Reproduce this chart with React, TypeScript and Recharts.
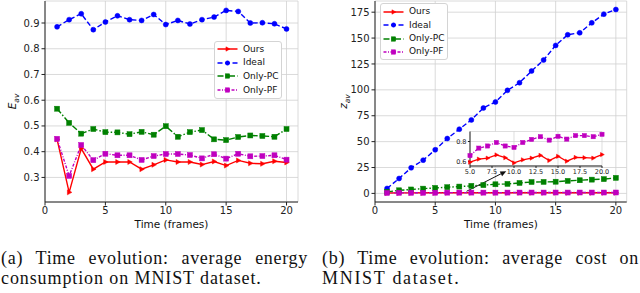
import React from 'react';
import { LineChart, Line, XAxis, YAxis, CartesianGrid, Legend, ReferenceLine } from 'recharts';

// frames on the x axis
const frames = [1, 2, 3, 4, 5, 6, 7, 8, 9, 10, 11, 12, 13, 14, 15, 16, 17, 18, 19, 20];

// (a) average energy consumption
const energyOurs = [0.448, 0.242, 0.412, 0.332, 0.36, 0.36, 0.36, 0.332, 0.349, 0.368, 0.36, 0.36, 0.35, 0.362, 0.346, 0.366, 0.355, 0.353, 0.363, 0.358];
const energyIdeal = [0.885, 0.913, 0.936, 0.874, 0.904, 0.928, 0.913, 0.91, 0.933, 0.894, 0.91, 0.896, 0.913, 0.923, 0.949, 0.945, 0.9, 0.901, 0.897, 0.877];
const energyOnlyPC = [0.567, 0.512, 0.47, 0.488, 0.476, 0.475, 0.468, 0.477, 0.466, 0.499, 0.458, 0.476, 0.484, 0.448, 0.445, 0.457, 0.463, 0.461, 0.458, 0.488];
const energyOnlyPF = [0.45, 0.306, 0.426, 0.367, 0.392, 0.386, 0.386, 0.368, 0.383, 0.391, 0.391, 0.387, 0.374, 0.39, 0.373, 0.392, 0.382, 0.383, 0.386, 0.369];

// (b) average cost
const costOurs = [0.42, 0.5, 0.55, 0.57, 0.593, 0.624, 0.634, 0.666, 0.638, 0.586, 0.617, 0.634, 0.662, 0.61, 0.652, 0.603, 0.641, 0.638, 0.634, 0.669];
const costIdeal = [4.8, 14.4, 24.7, 32.1, 42.1, 53.0, 62.0, 71.0, 82.5, 88.3, 99.5, 106.9, 118.2, 128.8, 142.9, 153.2, 155.1, 164.7, 173.1, 177.6];
const costOnlyPC = [1.5, 3.0, 3.8, 4.6, 5.3, 6.0, 6.6, 7.3, 8.0, 8.8, 9.2, 10.1, 11.0, 11.1, 11.3, 12.1, 12.7, 13.3, 13.8, 15.0];
const costOnlyPF = [0.45, 0.55, 0.6, 0.63, 0.659, 0.734, 0.755, 0.79, 0.755, 0.741, 0.79, 0.821, 0.848, 0.814, 0.852, 0.824, 0.859, 0.859, 0.848, 0.872];

// ticks
const frameTicks = [0, 5, 10, 15, 20];
const energyTicks = [0.3, 0.4, 0.5, 0.6, 0.7, 0.8, 0.9];
const costTicks = [0, 25, 50, 75, 100, 125, 150, 175];
const insetFrameTicks = [5, 7.5, 10, 12.5, 15, 17.5, 20];
const insetCostTicks = [0.6, 0.8];

// zoom arrow: from the low curves up to the inset (data units)
const arrowFrom = { x: 7.6, y: 2.0 };
const arrowTo = { x: 10.9, y: 21.5 };

const SERIES = [
  { key: 'ours', name: 'Ours', color: '#ff0000', dash: undefined, marker: 'tri' },
  { key: 'ideal', name: 'Ideal', color: '#0000ff', dash: '5 2.5', marker: 'circle' },
  { key: 'pc', name: 'Only-PC', color: '#008000', dash: '6 2 1.5 2', marker: 'square' },
  { key: 'pf', name: 'Only-PF', color: '#bf00bf', dash: '3 1.5 1 1.5', marker: 'square' },
];

const energyRows = frames.map((t, i) => ({
  t,
  ours: energyOurs[i],
  ideal: energyIdeal[i],
  pc: energyOnlyPC[i],
  pf: energyOnlyPF[i],
}));

const costRows = frames.map((t, i) => ({
  t,
  ours: costOurs[i],
  ideal: costIdeal[i],
  pc: costOnlyPC[i],
  pf: costOnlyPF[i],
}));

const insetRows = costRows.filter((r) => r.t >= 5);

const FONT = '"DejaVu Sans", sans-serif';
const tickStyle = { fontSize: 10, fill: '#222', fontFamily: FONT };

function Marker({ kind, cx, cy, color, s = 2.6 }: any) {
  if (cx == null || cy == null) return null;
  if (kind === 'tri') {
    const pts = `${cx + s * 1.1},${cy} ${cx - s * 0.7},${cy - s} ${cx - s * 0.7},${cy + s}`;
    return <polygon points={pts} fill={color} stroke={color} strokeWidth={0.5} />;
  }
  if (kind === 'circle') {
    return <circle cx={cx} cy={cy} r={s} fill={color} stroke={color} strokeWidth={0.5} />;
  }
  return <rect x={cx - s} y={cy - s} width={s * 2} height={s * 2} fill={color} stroke={color} strokeWidth={0.5} />;
}

const LegendBox = ({ rowH }: { rowH: number }) => (
  <div
    style={{
      background: '#fff',
      border: '1px solid #d4d4d4',
      borderRadius: 3,
      padding: '1px 3px 1px 2px',
      fontFamily: FONT,
      fontSize: 9,
      color: '#111',
      whiteSpace: 'nowrap',
      display: 'inline-block',
    }}
  >
    {SERIES.map((s) => (
      <div key={s.key} style={{ display: 'flex', alignItems: 'center', height: rowH }}>
        <svg width={21} height={10} style={{ display: 'block', flex: 'none' }}>
          <line x1={0.5} y1={5} x2={20.5} y2={5} stroke={s.color} strokeWidth={1.5} strokeDasharray={s.dash} />
          <Marker kind={s.marker} cx={10.5} cy={5} color={s.color} s={2.2} />
        </svg>
        <span style={{ marginLeft: 5, lineHeight: 1 }}>{s.name}</span>
      </div>
    ))}
  </div>
);

const XTitle = ({ viewBox }: any) => (
  <text
    x={viewBox.x + viewBox.width / 2}
    y={viewBox.y + 26}
    textAnchor="middle"
    fontSize={10.5}
    fontFamily={FONT}
    fill="#111"
  >
    Time (frames)
  </text>
);

const YTitle = ({ viewBox, sym, at }: any) => {
  const cx = viewBox.x + at;
  const cy = viewBox.y + viewBox.height / 2;
  return (
    <text
      x={cx}
      y={cy}
      transform={`rotate(-90, ${cx}, ${cy})`}
      textAnchor="middle"
      fontSize={10.5}
      fontFamily={FONT}
      fill="#111"
    >
      <tspan fontStyle="italic">{sym}</tspan>
      <tspan fontStyle="italic" fontSize={7.5} dy={2.5}>av</tspan>
    </text>
  );
};

const Arrow = (props: any) => {
  const { x1, y1, x2, y2 } = props;
  if ([x1, y1, x2, y2].some((v) => v == null)) return null;
  const a = Math.atan2(y2 - y1, x2 - x1);
  const L = 6;
  const W = 2.6;
  const bx = x2 - L * Math.cos(a);
  const by = y2 - L * Math.sin(a);
  const pts = `${x2},${y2} ${bx + W * Math.sin(a)},${by - W * Math.cos(a)} ${bx - W * Math.sin(a)},${by + W * Math.cos(a)}`;
  return (
    <g>
      <line x1={x1} y1={y1} x2={bx} y2={by} stroke="#111" strokeWidth={1} />
      <polygon points={pts} fill="#111" />
    </g>
  );
};

function seriesLines(size: number, width: number) {
  return SERIES.map((s) => (
    <Line
      key={s.key}
      dataKey={s.key}
      name={s.name}
      stroke={s.color}
      strokeWidth={width}
      strokeDasharray={s.dash}
      isAnimationActive={false}
      dot={(p: any) => <Marker key={`${s.key}-${p.index}`} kind={s.marker} cx={p.cx} cy={p.cy} color={s.color} s={size} />}
      activeDot={false}
    />
  ));
}

const spine = { stroke: '#222', strokeWidth: 1 };

const EnergyChart = () => (
  <LineChart width={320} height={240} data={energyRows} margin={{ top: 1, right: 22, bottom: 0, left: 0 }}>
    <CartesianGrid stroke="#d0d0d0" strokeWidth={0.8} />
    <XAxis
      dataKey="t"
      type="number"
      domain={[0, 20.95]}
      ticks={frameTicks}
      height={38}
      tick={tickStyle}
      tickSize={3.5}
      tickMargin={1.5}
      axisLine={spine}
      tickLine={spine}
      label={<XTitle />}
    />
    <XAxis xAxisId="top" dataKey="t" type="number" domain={[0, 20.95]} orientation="top" height={0} tick={false} tickLine={false} axisLine={spine} />
    <YAxis
      type="number"
      domain={[0.2045, 0.9855]}
      ticks={energyTicks}
      width={45}
      tick={tickStyle}
      tickSize={3.5}
      tickMargin={2}
      axisLine={spine}
      tickLine={spine}
      tickFormatter={(v: number) => v.toFixed(1)}
      label={<YTitle sym="E" at={16} />}
    />
    <YAxis yAxisId="right" orientation="right" type="number" domain={[0.2045, 0.9855]} width={0} tick={false} tickLine={false} axisLine={spine} />
    {seriesLines(2.5, 1.4)}
    <Legend
      verticalAlign="middle"
      align="center"
      layout="horizontal"
      wrapperStyle={{ left: 214, top: 40.5, width: 'auto', height: 'auto' }}
      content={() => <LegendBox rowH={13.6} />}
    />
  </LineChart>
);

const CostChart = () => (
  <LineChart width={320} height={240} data={costRows} margin={{ top: 1, right: 13.3, bottom: 0, left: 0 }}>
    <CartesianGrid stroke="#d0d0d0" strokeWidth={0.8} />
    <XAxis
      dataKey="t"
      type="number"
      domain={[0, 20.9]}
      ticks={frameTicks}
      height={38}
      tick={tickStyle}
      tickSize={3.5}
      tickMargin={1.5}
      axisLine={spine}
      tickLine={spine}
      label={<XTitle />}
    />
    <XAxis xAxisId="top" dataKey="t" type="number" domain={[0, 20.9]} orientation="top" height={0} tick={false} tickLine={false} axisLine={spine} />
    <YAxis
      type="number"
      domain={[-8.3, 185.8]}
      ticks={costTicks}
      width={55}
      tick={tickStyle}
      tickSize={3.5}
      tickMargin={2}
      axisLine={spine}
      tickLine={spine}
      label={<YTitle sym="z" at={27} />}
    />
    <YAxis yAxisId="right" orientation="right" type="number" domain={[-8.3, 185.8]} width={0} tick={false} tickLine={false} axisLine={spine} />
    {seriesLines(2.5, 1.4)}
    <ReferenceLine segment={[arrowFrom, arrowTo]} shape={<Arrow />} ifOverflow="visible" />
    <Legend
      verticalAlign="middle"
      align="center"
      layout="horizontal"
      wrapperStyle={{ left: 60, top: 3.3, width: 'auto', height: 'auto' }}
      content={() => <LegendBox rowH={13.3} />}
    />
  </LineChart>
);

const insetTick = { fontSize: 6.5, fill: '#222', fontFamily: FONT };

const InsetChart = () => (
  <LineChart width={170} height={50} data={insetRows} margin={{ top: 2.5, right: 8, bottom: 0, left: 0 }}>
    <CartesianGrid stroke="#d0d0d0" strokeWidth={0.7} fill="#fff" />
    <XAxis
      dataKey="t"
      type="number"
      domain={[5, 20]}
      ticks={insetFrameTicks}
      height={13}
      tick={insetTick}
      tickSize={2}
      tickMargin={1}
      axisLine={spine}
      tickLine={spine}
      tickFormatter={(v: number) => v.toFixed(1)}
    />
    <XAxis xAxisId="top" dataKey="t" type="number" domain={[5, 20]} orientation="top" height={0} tick={false} tickLine={false} axisLine={spine} />
    <YAxis
      type="number"
      domain={[0.555, 0.9]}
      ticks={insetCostTicks}
      width={30}
      tick={insetTick}
      tickSize={2}
      tickMargin={1.5}
      axisLine={spine}
      tickLine={spine}
      tickFormatter={(v: number) => v.toFixed(1)}
    />
    <YAxis yAxisId="right" orientation="right" type="number" domain={[0.555, 0.9]} width={0} tick={false} tickLine={false} axisLine={spine} />
    {SERIES.filter((s) => s.key === 'ours' || s.key === 'pf').map((s) => (
      <Line
        key={s.key}
        dataKey={s.key}
        stroke={s.color}
        strokeWidth={1.3}
        strokeDasharray={s.dash}
        isAnimationActive={false}
        dot={(p: any) => <Marker key={`${s.key}-${p.index}`} kind={s.marker} cx={p.cx} cy={p.cy} color={s.color} s={2.1} />}
        activeDot={false}
      />
    ))}
  </LineChart>
);

const captionStyle: React.CSSProperties = {
  position: 'absolute',
  fontFamily: '"Liberation Serif", "Times New Roman", serif',
  fontSize: 18,
  lineHeight: '20px',
  color: '#111',
  whiteSpace: 'nowrap',
};

export default function App() {
  return (
    <div style={{ position: 'absolute', left: 0, top: 0, width: 640, height: 293, background: '#fff', overflow: 'hidden' }}>
      <div style={{ position: 'absolute', left: 0, top: 0 }}>
        <EnergyChart />
      </div>
      <div style={{ position: 'absolute', left: 320, top: 0 }}>
        <CostChart />
      </div>
      <div style={{ position: 'absolute', left: 440, top: 129 }}>
        <InsetChart />
      </div>
      <div style={{ ...captionStyle, left: 1, top: 247.5, width: 307, letterSpacing: 0.7, textAlign: 'justify', textAlignLast: 'justify' }}>
        (a) Time evolution: average energy
      </div>
      <div style={{ ...captionStyle, left: 1, top: 267.8, letterSpacing: 0.9 }}>
        consumption on MNIST dataset.
      </div>
      <div style={{ ...captionStyle, left: 322, top: 247.5, width: 317, letterSpacing: 0.7, textAlign: 'justify', textAlignLast: 'justify' }}>
        (b) Time evolution: average cost on
      </div>
      <div style={{ ...captionStyle, left: 322, top: 267.8, letterSpacing: 1.7 }}>
        MNIST dataset.
      </div>
    </div>
  );
}
